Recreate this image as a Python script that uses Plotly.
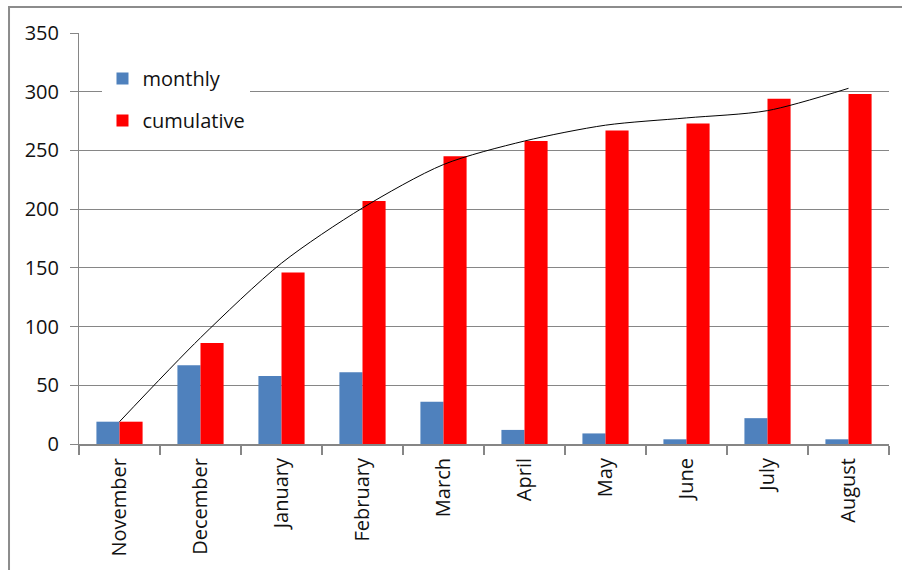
import plotly.graph_objects as go

months = ["November", "December", "January", "February", "March",
          "April", "May", "June", "July", "August"]
monthly = [19, 67, 58, 61, 36, 12, 9, 4, 22, 4]
cumulative = [19, 86, 146, 207, 245, 258, 267, 273, 294, 298]
# smoothed trend of the cumulative total, one value per month
trend = [19, 90.5, 154, 201, 238, 258, 271.5, 277.7, 283.9, 302.9]
y_ticks = [0, 50, 100, 150, 200, 250, 300, 350]

GRID = "#868686"
TEXT = "#111111"

fig = go.Figure()
fig.add_trace(go.Bar(x=months, y=monthly, name="monthly",
                     marker=dict(color="#4F81BD", line=dict(width=0)),
                     legendgroup="a"))
fig.add_trace(go.Bar(x=months, y=cumulative, name="cumulative",
                     marker=dict(color="#FF0000", line=dict(width=0)),
                     legendgroup="b"))
fig.add_trace(go.Scatter(x=months, y=trend, mode="lines", showlegend=False,
                         hoverinfo="skip",
                         line=dict(color="black", width=1, shape="spline",
                                   smoothing=0.8)))

fig.update_layout(
    width=902, height=570,
    margin=dict(l=79, r=13, t=33, b=126),
    paper_bgcolor="white", plot_bgcolor="white",
    font=dict(family="Open Sans", size=20, color=TEXT),
    barmode="group", bargap=0.43, bargroupgap=0,
    showlegend=True,
    legend=dict(x=0.029, y=0.937, xanchor="left", yanchor="top",
                bgcolor="white", borderwidth=0, tracegroupgap=13,
                itemwidth=30,
                font=dict(family="Open Sans", size=20, color=TEXT)),
    xaxis=dict(showline=True, linecolor=GRID, linewidth=2,
               ticks="outside", tickson="boundaries", ticklen=9,
               tickcolor=GRID, tickwidth=1.5, tickangle=-90,
               ticklabelstandoff=4,
               showgrid=False, tickfont=dict(size=20, color=TEXT)),
    yaxis=dict(range=[0, 350], tickvals=y_ticks, showgrid=True,
               gridcolor=GRID, gridwidth=1, showline=True, linecolor=GRID,
               linewidth=1, ticks="outside", ticklen=8, tickcolor=GRID,
               ticklabelstandoff=7,
               zeroline=False, tickfont=dict(size=20, color=TEXT)),
    shapes=[dict(type="path", xref="paper", yref="paper",
                 path="M -0.0864,-0.31 L -0.0864,1.0633 L 1.02,1.0633",
                 line=dict(color="#8c8c8c", width=2))],
)

fig.write_html("out.html")
